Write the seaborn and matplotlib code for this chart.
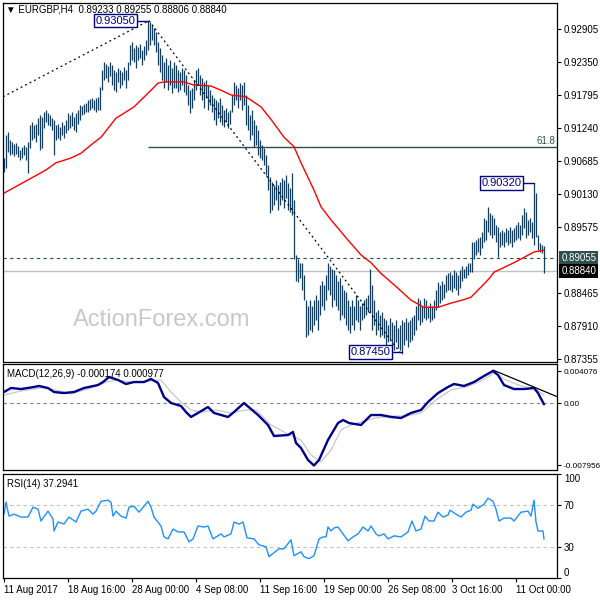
import numpy as np
import seaborn as sns
import matplotlib.pyplot as plt

sns.set_style("white")
plt.rcParams['font.family'] = ['Liberation Sans', 'DejaVu Sans']

# EURGBP H4 bars (one value per bar)
bar_high = [
    0.9074, 0.9113, 0.9118, 0.9104, 0.9101, 0.9098, 0.9099, 0.9094, 0.9087, 0.9093,
    0.9096, 0.9093, 0.9101, 0.9129, 0.9134, 0.9129, 0.9131, 0.9141, 0.9146, 0.9143,
    0.9151, 0.9155, 0.9150, 0.9146, 0.9141, 0.9138, 0.9129, 0.9131, 0.9126, 0.9134,
    0.9129, 0.9138, 0.9150, 0.9146, 0.9151, 0.9143, 0.9150, 0.9155, 0.9163, 0.9161,
    0.9165, 0.9167, 0.9172, 0.9173, 0.9175, 0.9172, 0.9175, 0.9177, 0.9193, 0.9222,
    0.9236, 0.9232, 0.9229, 0.9236, 0.9230, 0.9222, 0.9219, 0.9225, 0.9222, 0.9219,
    0.9227, 0.9222, 0.9236, 0.9264, 0.9269, 0.9259, 0.9264, 0.9261, 0.9266, 0.9256,
    0.9262, 0.9273, 0.9305, 0.9303, 0.9298, 0.9293, 0.9286, 0.9269, 0.9259, 0.9247,
    0.9236, 0.9242, 0.9230, 0.9239, 0.9225, 0.9236, 0.9230, 0.9222, 0.9219, 0.9225,
    0.9222, 0.9214, 0.9197, 0.9188, 0.9192, 0.9205, 0.9222, 0.9225, 0.9214, 0.9209,
    0.9202, 0.9205, 0.9197, 0.9188, 0.9180, 0.9175, 0.9172, 0.9168, 0.9175, 0.9163,
    0.9155, 0.9158, 0.9151, 0.9155, 0.9180, 0.9202, 0.9197, 0.9192, 0.9200, 0.9197,
    0.9202, 0.9180, 0.9163, 0.9146, 0.9155, 0.9138, 0.9129, 0.9121, 0.9104, 0.9096,
    0.9091, 0.9079, 0.9062, 0.9042, 0.9034, 0.9028, 0.9037, 0.9028, 0.9034, 0.9040,
    0.9037, 0.9045, 0.9032, 0.9023, 0.9049, 0.9003, 0.8911, 0.8905, 0.8898, 0.8898,
    0.8877, 0.8835, 0.8826, 0.8835, 0.8826, 0.8835, 0.8843, 0.8835, 0.8860, 0.8868,
    0.8860, 0.8877, 0.8898, 0.8893, 0.8888, 0.8885, 0.8877, 0.8868, 0.8872, 0.8860,
    0.8852, 0.8848, 0.8835, 0.8826, 0.8835, 0.8826, 0.8843, 0.8835, 0.8826, 0.8830,
    0.8835, 0.8838, 0.8843, 0.8888, 0.8860, 0.8835, 0.8815, 0.8818, 0.8810, 0.8815,
    0.8805, 0.8801, 0.8793, 0.8805, 0.8798, 0.8793, 0.8801, 0.8788, 0.8793, 0.8801,
    0.8798, 0.8805, 0.8798, 0.8801, 0.8806, 0.8810, 0.8826, 0.8838, 0.8835, 0.8826,
    0.8838, 0.8835, 0.8826, 0.8830, 0.8826, 0.8835, 0.8852, 0.8865, 0.8860, 0.8868,
    0.8863, 0.8877, 0.8880, 0.8882, 0.8877, 0.8885, 0.8882, 0.8877, 0.8885, 0.8893,
    0.8888, 0.8893, 0.8898, 0.8898, 0.8933, 0.8933, 0.8936, 0.8939, 0.8941, 0.8949,
    0.8973, 0.8970, 0.8992, 0.8981, 0.8978, 0.8973, 0.8961, 0.8958, 0.8949, 0.8953,
    0.8949, 0.8956, 0.8953, 0.8958, 0.8953, 0.8956, 0.8961, 0.8966, 0.8961, 0.8978,
    0.8990, 0.8983, 0.8970, 0.8973, 0.8966, 0.9032, 0.9015, 0.8944, 0.8931, 0.8927, 0.8926]

bar_low = [
    0.9050, 0.9057, 0.9084, 0.9079, 0.9081, 0.9077, 0.9081, 0.9076, 0.9071, 0.9074,
    0.9079, 0.9071, 0.9049, 0.9091, 0.9104, 0.9108, 0.9101, 0.9113, 0.9087, 0.9091,
    0.9124, 0.9134, 0.9129, 0.9128, 0.9121, 0.9079, 0.9104, 0.9108, 0.9104, 0.9113,
    0.9108, 0.9116, 0.9121, 0.9124, 0.9128, 0.9121, 0.9118, 0.9131, 0.9138, 0.9146,
    0.9148, 0.9151, 0.9151, 0.9155, 0.9158, 0.9155, 0.9151, 0.9155, 0.9155, 0.9188,
    0.9205, 0.9209, 0.9202, 0.9212, 0.9197, 0.9188, 0.9185, 0.9202, 0.9192, 0.9197,
    0.9205, 0.9192, 0.9205, 0.9230, 0.9239, 0.9236, 0.9225, 0.9239, 0.9242, 0.9230,
    0.9239, 0.9247, 0.9256, 0.9264, 0.9273, 0.9264, 0.9252, 0.9230, 0.9219, 0.9205,
    0.9192, 0.9202, 0.9188, 0.9197, 0.9183, 0.9192, 0.9192, 0.9185, 0.9188, 0.9197,
    0.9185, 0.9180, 0.9163, 0.9150, 0.9158, 0.9172, 0.9188, 0.9197, 0.9180, 0.9172,
    0.9158, 0.9175, 0.9155, 0.9163, 0.9151, 0.9138, 0.9129, 0.9141, 0.9134, 0.9129,
    0.9126, 0.9134, 0.9124, 0.9131, 0.9151, 0.9163, 0.9172, 0.9158, 0.9172, 0.9155,
    0.9163, 0.9129, 0.9121, 0.9104, 0.9113, 0.9093, 0.9096, 0.9079, 0.9074, 0.9071,
    0.9062, 0.9045, 0.9020, 0.8981, 0.8987, 0.8995, 0.9003, 0.8987, 0.8995, 0.9003,
    0.8990, 0.9007, 0.8987, 0.8983, 0.8978, 0.8905, 0.8868, 0.8865, 0.8872, 0.8852,
    0.8835, 0.8773, 0.8776, 0.8784, 0.8781, 0.8793, 0.8801, 0.8784, 0.8810, 0.8826,
    0.8818, 0.8835, 0.8852, 0.8843, 0.8823, 0.8835, 0.8826, 0.8818, 0.8801, 0.8810,
    0.8805, 0.8793, 0.8784, 0.8779, 0.8793, 0.8784, 0.8801, 0.8798, 0.8784, 0.8801,
    0.8805, 0.8810, 0.8815, 0.8815, 0.8784, 0.8793, 0.8776, 0.8784, 0.8773, 0.8776,
    0.8771, 0.8759, 0.8764, 0.8768, 0.8759, 0.8751, 0.8764, 0.8754, 0.8751, 0.8745,
    0.8759, 0.8768, 0.8757, 0.8764, 0.8768, 0.8776, 0.8784, 0.8801, 0.8793, 0.8798,
    0.8805, 0.8801, 0.8805, 0.8798, 0.8801, 0.8805, 0.8818, 0.8823, 0.8830, 0.8835,
    0.8838, 0.8848, 0.8852, 0.8852, 0.8848, 0.8855, 0.8852, 0.8843, 0.8855, 0.8868,
    0.8872, 0.8873, 0.8877, 0.8882, 0.8882, 0.8905, 0.8911, 0.8916, 0.8911, 0.8922,
    0.8933, 0.8936, 0.8949, 0.8944, 0.8939, 0.8944, 0.8933, 0.8907, 0.8924, 0.8927,
    0.8924, 0.8933, 0.8927, 0.8931, 0.8924, 0.8933, 0.8936, 0.8939, 0.8936, 0.8944,
    0.8956, 0.8939, 0.8944, 0.8949, 0.8939, 0.8927, 0.8941, 0.8919, 0.8916, 0.8914, 0.8881]

# moving average (red), sampled along the bars
ma_bar = [0, 13.5, 21, 26, 33.5, 38.5, 43.5, 48.5, 56, 65,
          73.5, 77, 80, 90, 94.5, 103.5, 108.5, 113.5, 121, 128.5,
          133.5, 140, 145, 148.5, 155, 158.5, 163.5, 172, 178.5, 183.5,
          188.5, 197, 203.5, 210, 217, 223.5, 230, 233.5, 238.5, 242.5,
          245, 255, 265, 270]
ma_val = [0.9015, 0.9040, 0.9054, 0.9066, 0.9074, 0.9082, 0.9096, 0.9109, 0.9141, 0.9160,
          0.9188, 0.9200, 0.9202, 0.9202, 0.9197, 0.9195, 0.9188, 0.9180, 0.9177, 0.9160,
          0.9139, 0.9109, 0.9093, 0.9066, 0.9020, 0.8992, 0.8970, 0.8936, 0.8911, 0.8898,
          0.8880, 0.8855, 0.8835, 0.8823, 0.8823, 0.8830, 0.8836, 0.8840, 0.8857, 0.8871,
          0.8882, 0.8898, 0.8916, 0.8919]

macd_bar = [0, 3.5, 8.5, 15, 17.5, 22, 25, 30, 35, 40,
            47, 49.5, 52.5, 57, 61, 65, 70, 73.5, 77, 80,
            83.5, 88.5, 91, 93.5, 97, 102, 105, 112, 115, 120,
            127, 132, 135, 142, 144.5, 146, 148.5, 152, 155, 157.5,
            162, 167, 169.5, 172.5, 178.5, 183.5, 188.5, 193.5, 198.5, 203.5,
            208.5, 212, 217, 222, 225, 230, 235, 240, 244.5, 247,
            250, 255, 260, 265, 267, 270]
macd_val = [0.00140, 0.00191, 0.00178, 0.00204, 0.00217, 0.00191, 0.00140, 0.00127, 0.00140, 0.00191,
            0.00229, 0.00267, 0.00331, 0.00293, 0.00242, 0.00267, 0.00267, 0.00306, 0.00255, 0.00076,
            0.00000, -0.00038, -0.00115, -0.00178, -0.00127, -0.00051, -0.00127, -0.00178, -0.00115, 0.00000,
            -0.00153, -0.00280, -0.00420, -0.00408, -0.00369, -0.00509, -0.00573, -0.00726, -0.00796, -0.00726,
            -0.00471, -0.00255, -0.00217, -0.00255, -0.00280, -0.00153, -0.00153, -0.00178, -0.00191, -0.00127,
            -0.00089, 0.00013, 0.00127, 0.00204, 0.00242, 0.00217, 0.00267, 0.00344, 0.00408, 0.00357,
            0.00229, 0.00178, 0.00178, 0.00191, 0.00127, -0.00017]

sig_bar = [0, 8.5, 18.5, 26, 33.5, 43.5, 51, 56, 63.5, 73.5,
           78.5, 83.5, 88.5, 93.5, 98.5, 106, 113.5, 121, 126, 133.5,
           141, 148.5, 153.5, 158.5, 163.5, 168.5, 173.5, 178.5, 186, 193.5,
           201, 208.5, 216, 223.5, 231, 238.5, 245, 251, 258.5, 266, 270]
sig_val = [0.00102, 0.00153, 0.00191, 0.00166, 0.00115, 0.00191, 0.00267, 0.00293, 0.00267, 0.00280,
           0.00293, 0.00140, 0.00013, -0.00089, -0.00115, -0.00089, -0.00127, -0.00089, -0.00089, -0.00280,
           -0.00382, -0.00471, -0.00662, -0.00751, -0.00599, -0.00344, -0.00280, -0.00242, -0.00191, -0.00166,
           -0.00166, -0.00127, 0.00038, 0.00166, 0.00204, 0.00280, 0.00382, 0.00293, 0.00217, 0.00178, 0.00098]

rsi_bar = [0, 1, 2.5, 5, 8.5, 12, 14.5, 17, 18.5, 22,
           24.5, 25, 27, 30, 32.5, 36, 38.5, 42, 44.5, 46,
           48.5, 52, 53.5, 54.5, 56, 58.5, 61, 62.5, 65, 67.5,
           70, 72, 73.5, 75, 78.5, 80, 82, 84.5, 87, 90,
           92.5, 94.5, 97, 100, 102, 104.5, 108.5, 110, 113.5, 115,
           117.5, 119.5, 121.5, 125, 127.5, 131, 132.5, 135, 137.5, 140,
           143.5, 145, 148.5, 150, 152.5, 155, 157.5, 159.5, 161, 162,
           163.5, 165, 167, 169.5, 172, 174.5, 177, 179.5, 182, 183.5,
           186, 187.5, 190, 192, 195, 198.5, 202, 204, 206, 208.5,
           210.5, 212.5, 215, 217, 219.5, 222, 223, 226, 228.5, 231,
           233.5, 234.5, 237, 240, 242, 244.5, 246, 247.5, 250, 253.5,
           255, 258.5, 262, 263.5, 265, 266, 267, 269.5, 270]
rsi_val = [61.4, 72.9, 59.5, 61.4, 58.6, 58.6, 68.1, 66.2, 54.8, 64.3,
           56.7, 45.2, 53.8, 51.9, 58.6, 53.8, 64.3, 66.2, 61.4, 64.3,
           73.8, 74.8, 72.9, 59.5, 64.3, 59.5, 57.6, 68.1, 69.0, 63.3,
           69.0, 73.8, 68.1, 58.6, 50.0, 39.5, 37.6, 47.1, 44.3, 44.3,
           34.8, 37.6, 50.0, 49.0, 50.0, 37.6, 42.4, 39.5, 42.4, 53.8,
           51.9, 53.8, 38.6, 37.6, 31.9, 30.0, 20.5, 24.3, 28.1, 28.1,
           36.7, 21.4, 25.2, 20.5, 18.6, 21.4, 37.6, 39.5, 39.5, 49.0,
           45.2, 48.1, 49.0, 42.4, 35.7, 39.5, 42.4, 49.0, 45.2, 50.0,
           42.4, 40.5, 42.4, 37.6, 40.5, 39.5, 44.3, 54.8, 45.2, 47.1,
           59.5, 54.8, 54.8, 63.3, 58.6, 60.5, 65.2, 61.4, 58.6, 63.3,
           65.2, 71.0, 67.1, 71.0, 76.7, 73.8, 66.2, 54.8, 57.6, 57.6,
           54.8, 63.3, 64.3, 59.5, 74.8, 53.8, 45.2, 45.2, 37.3]

# drawn objects
trend1_bar, trend1_price = [-0.5, 72.5], [0.9177, 0.9305]
trend2_bar, trend2_price = [72.5, 198.5], [0.9305, 0.8745]
macd_trend_bar, macd_trend_val = [244.5, 277], [0.00420, 0.00076]
fib_start, fib_618 = 72, 0.90926
level_dash, last_price = 0.89055, 0.88840

box_text = ["0.93050", "0.90320", "0.87450"]
box_price = [0.93050, 0.90320, 0.87480]
box_bar = [65.7, 258.7, 193.2]
box_target = [72, 265, 199]

price_ticks = [0.92905, 0.92350, 0.91795, 0.91240, 0.90685, 0.90130, 0.89575, 0.88465, 0.87910, 0.87355]
macd_ticks = [0.004076, 0.0, -0.007956]
macd_tick_labels = ["0.004076", "0.00", "-0.007956"]
rsi_ticks = [0, 30, 70, 100]
time_bars = [0, 32, 64, 96, 128, 160, 192, 224, 256]
time_labels = ["11 Aug 2017", "18 Aug 16:00", "28 Aug 00:00", "4 Sep 08:00", "11 Sep 16:00",
               "19 Sep 00:00", "26 Sep 08:00", "3 Oct 16:00", "11 Oct 00:00"]

bar_col = '#143e5c'
slate = '#2f4f4f'
navy = '#000080'

fig = plt.figure(figsize=(6, 6), dpi=100)
ax = fig.add_axes([3/600, 1-362/600, 554/600, 359/600])
ax_macd = fig.add_axes([3/600, 1-470/600, 554/600, 106/600])
ax_rsi = fig.add_axes([3/600, 1-578/600, 554/600, 104/600])

# price panel
bars = np.arange(len(bar_high))
ax.axhline(last_price, color='#c0c0c0', lw=1, zorder=1)
ax.axhline(level_dash, color=slate, lw=0.8, ls=(0, (3, 3)), zorder=1)
ax.hlines(fib_618, fib_start, 277, color=slate, lw=1, zorder=1)
ax.vlines(bars, bar_low, bar_high, colors=bar_col, linewidth=0.9, zorder=2)
sns.lineplot(x=ma_bar, y=ma_val, ax=ax, color='red', linewidth=1, zorder=3)
ax.plot(trend1_bar, trend1_price, color='black', lw=0.9, ls=(0, (1.5, 2.5)), zorder=3)
ax.plot(trend2_bar, trend2_price, color='black', lw=0.9, ls=(0, (1.5, 2.5)), zorder=3)
for t, p, b, tg in zip(box_text, box_price, box_bar, box_target):
    ax.plot([b + 0.8, tg], [p, p], color=navy, lw=1, zorder=4)
    ax.text(b, p, t, ha='right', va='center', fontsize=8, color=navy, zorder=5,
            bbox=dict(boxstyle='square,pad=0.15', fc='white', ec=navy, lw=1))
ax.text(275.5, fib_618 + 0.0002, "61.8", ha='right', va='bottom', fontsize=7, color=slate)

ax.set_xlim(-0.5, 276.5)
ax.set_ylim(0.87310, 0.93347)
ax.yaxis.tick_right()
ax.set_yticks(price_ticks)
ax.set_yticklabels(["%.5f" % v for v in price_ticks])
ax.set_xticks([])

ytr = ax.get_yaxis_transform()
ax.text(1.0075, level_dash, "0.89055", transform=ytr, ha='left', va='center', fontsize=7,
        color='white', bbox=dict(boxstyle='square,pad=0.2', fc=slate, ec='none'))
ax.text(1.0075, last_price, "0.88840", transform=ytr, ha='left', va='center', fontsize=7,
        color='white', bbox=dict(boxstyle='square,pad=0.2', fc='black', ec='none'))

# MACD panel
ax_macd.axhline(0, color='#808080', lw=0.8, ls=(0, (3, 3)))
sns.lineplot(x=sig_bar, y=sig_val, ax=ax_macd, color='#c8c8c8', linewidth=0.9)
sns.lineplot(x=macd_bar, y=macd_val, ax=ax_macd, color='#00008b', linewidth=1.7)
ax_macd.plot(macd_trend_bar, macd_trend_val, color='black', lw=0.9)
ax_macd.set_xlim(-0.5, 276.5)
ax_macd.set_ylim(-0.008534, 0.004968)
ax_macd.yaxis.tick_right()
ax_macd.set_yticks(macd_ticks)
ax_macd.set_yticklabels(macd_tick_labels)
ax_macd.set_xticks([])

# RSI panel
ax_rsi.axhline(70, color='#c0c0c0', lw=0.8, ls=(0, (3, 3)))
ax_rsi.axhline(30, color='#c0c0c0', lw=0.8, ls=(0, (3, 3)))
sns.lineplot(x=rsi_bar, y=rsi_val, ax=ax_rsi, color='#1e90ff', linewidth=1)
ax_rsi.set_xlim(-0.5, 276.5)
ax_rsi.set_ylim(0, 100)
ax_rsi.yaxis.tick_right()
ax_rsi.set_yticks(rsi_ticks)
ax_rsi.set_yticklabels([str(v) for v in rsi_ticks])
ax_rsi.set_xticks(time_bars)
ax_rsi.set_xticklabels(time_labels, ha='left')
lbls = ax_rsi.get_yticklabels()
lbls[0].set_va('bottom')
lbls[-1].set_va('top')

for a in (ax, ax_macd, ax_rsi):
    a.set_xlabel('')
    a.set_ylabel('')
    for s in a.spines.values():
        s.set_color('black')
        s.set_linewidth(0.9)
    a.tick_params(axis='y', right=True, left=False, length=3, width=0.8, pad=2,
                  labelsize=7, colors='black')
ax_rsi.tick_params(axis='x', bottom=True, length=3, width=0.8, pad=2, labelsize=7, colors='black')
# the MACD scale labels are long; keep them inside the picture
ax_macd.tick_params(axis='y', labelsize=5.9, pad=1.5)

fig.text(6/600, 1-10/600, "\u25bc EURGBP,H4  0.89233 0.89255 0.88806 0.88840",
         ha='left', va='center', fontsize=7, color='black')
fig.text(7/600, 1-374/600, "MACD(12,26,9) -0.000174 0.000977", ha='left', va='center',
         fontsize=7, color='black')
fig.text(7/600, 1-484/600, "RSI(14) 37.2941", ha='left', va='center', fontsize=7, color='black')
fig.text(162/600, 1-320/600, "ActionForex.com", ha='center', va='center', fontsize=17,
         color='#c8c8c8')

fig.savefig("out.png", dpi=100, facecolor='white')
